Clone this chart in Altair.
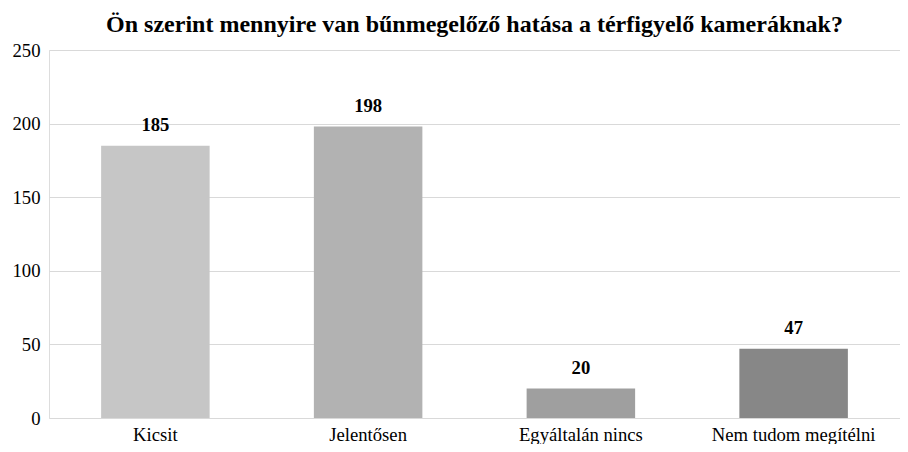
import altair as alt
import pandas as pd

categories = ["Kicsit", "Jelentősen", "Egyáltalán nincs", "Nem tudom megítélni"]
values = [185, 198, 20, 47]
colors = ["#c6c6c6", "#b2b2b2", "#9f9f9f", "#878787"]

df = pd.DataFrame({"cat": categories, "val": values, "color": colors})

FONT = "'Liberation Serif', 'Times New Roman', 'DejaVu Serif', serif"
yscale = alt.Scale(domain=[0, 250], nice=False, zero=True)

x = alt.X("cat:N", sort=categories, title=None,
          scale=alt.Scale(paddingInner=0.49, paddingOuter=0.245),
          axis=alt.Axis(labelAngle=0, labelFont=FONT, labelFontSize=18.67, labelColor="#000000",
                        labelFontWeight="normal", ticks=False, domain=False, labelPadding=7))
y = alt.Y("val:Q", title=None, scale=yscale,
          axis=alt.Axis(values=[0, 50, 100, 150, 200, 250], labelFont=FONT, labelFontSize=18.67,
                        labelFontWeight="normal", labelColor="#000000", ticks=False, domain=False,
                        labelPadding=9, gridColor="#d9d9d9", gridWidth=1))

bars = alt.Chart(df).mark_bar().encode(
    x=x, y=y, color=alt.Color("color:N", scale=None)
)
text = alt.Chart(df).mark_text(font=FONT, fontSize=18.67, fontWeight="bold", baseline="alphabetic",
                               dy=-15, color="#000000").encode(
    x=alt.X("cat:N", sort=categories),
    y=alt.Y("val:Q", scale=yscale),
    text="val:Q"
)

chart = (bars + text).properties(
    width=851, height=368,
    title=alt.TitleParams("Ön szerint mennyire van bűnmegelőző hatása a térfigyelő kameráknak?",
                          font=FONT, fontSize=24, fontWeight="bold", color="#000000", offset=4),
    autosize=alt.AutoSizeParams(type="none"),
    padding={"left": 41, "top": 42, "right": 0, "bottom": 26},
).configure_view(stroke=None).configure_axis(labelFont=FONT).configure(background="white")

chart.save("out.html", embed_options={"renderer": "svg", "actions": False})
